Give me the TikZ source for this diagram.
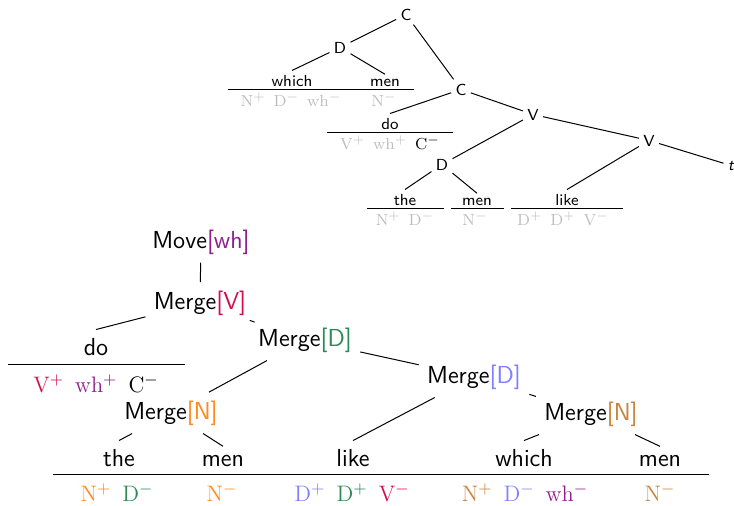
\documentclass[tikz,border=0pt]{standalone}
\usepackage{xcolor}
\usepackage{tikz}
\usetikzlibrary{positioning}
\definecolor{featOrange}{HTML}{FF8A1E}
\definecolor{featPeru}{HTML}{C8843E}
\definecolor{featBlue}{HTML}{8080FF}
\definecolor{featGreen}{HTML}{2E8B57}
\definecolor{featRed}{HTML}{D0104C}
\definecolor{featPurple}{HTML}{8E1E8E}
\definecolor{featGray}{HTML}{BDBDBD}

\begin{document}
\begin{tikzpicture}[
  x=0.5pt,y=-0.5pt,
  op/.style={font=\fontsize{12.3}{14}\selectfont\sffamily,inner sep=4pt,anchor=base},
  feats/.style={font=\fontsize{11.2}{13}\selectfont\rmfamily,inner sep=0pt,anchor=base},
  cat/.style={font=\fontsize{8}{10}\selectfont\sffamily,inner sep=2pt,anchor=base},
  spent/.style={font=\fontsize{8}{10}\selectfont\rmfamily,inner sep=0pt,anchor=base,text=featGray},
  branch/.style={line width=0.5pt},
  bar/.style={line width=0.5pt}
]
\useasboundingbox (0,0) rectangle (734,505);
\node[cat] (cTop) at (406,20) {C};
\node[cat] (dTop) at (340,53) {D};
\node[cat] (whichT) at (292,86) {which};
\node[cat] (menT) at (385,86) {men};
\node[spent] (whichTF) at (291,106) {N$^{+}$\enskip D$^{-}$\enskip wh$^{-}$};
\node[spent] (menTF) at (384,106) {N$^{-}$};
\node[cat] (cMid) at (461,95) {C};
\node[cat] (doT) at (390,129) {do};
\node[spent] (doTF) at (390,149) {V$^{+}$\enskip wh$^{+}$\enskip{\color{black}C$^{-}$}};
\node[cat] (vTop) at (533,120) {V};
\node[cat] (vLow) at (649,146) {V};
\node[cat] (trace) at (731,170) {\itshape t};
\node[cat] (dLow) at (442,170) {D};
\node[cat] (theT) at (405,205) {the};
\node[cat] (menT2) at (477,205) {men};
\node[cat] (likeT) at (567,205) {like};
\node[spent] (theTF) at (405,225) {N$^{+}$\enskip D$^{-}$};
\node[spent] (menT2F) at (475,225) {N$^{-}$};
\node[spent] (likeTF) at (563,225) {D$^{+}$\enskip D$^{+}$\enskip V$^{-}$};
\draw[bar] (228,89) -- (357,89);
\draw[bar] (357,89) -- (414,89);
\draw[bar] (327,132) -- (453,132);
\draw[bar] (367,208) -- (444,208);
\draw[bar] (451,208) -- (504,208);
\draw[bar] (511,208) -- (623,208);
\draw[branch] (cTop) -- (dTop);
\draw[branch] (cTop) -- (cMid);
\draw[branch] (dTop) -- (whichT.north);
\draw[branch] (dTop) -- (menT.north);
\draw[branch] (cMid) -- (doT.north);
\draw[branch] (cMid) -- (vTop);
\draw[branch] (vTop) -- (dLow);
\draw[branch] (vTop) -- (vLow);
\draw[branch] (dLow) -- (theT.north);
\draw[branch] (dLow) -- (menT2.north);
\draw[branch] (vLow) -- (likeT.north);
\draw[branch] (vLow) -- (trace);
\node[op] (move) at (201,248) {Move{\color{featPurple}[wh]}};
\node[op] (mergeV) at (200,309) {Merge{\color{featRed}[V]}};
\node[op] (doL) at (96,355) {do};
\node[feats] (doF) at (96,392) {{\color{featRed}V$^{+}$}\enskip{\color{featPurple}wh$^{+}$}\enskip C$^{-}$};
\node[op] (mergeDa) at (305,346) {Merge{\color{featGreen}[D]}};
\node[op] (mergeDb) at (474,383) {Merge{\color{featBlue}[D]}};
\node[op] (mergeNa) at (171,419) {Merge{\color{featOrange}[N]}};
\node[op] (mergeNb) at (591,420) {Merge{\color{featPeru}[N]}};
\node[op] (theL) at (119,466) {the};
\node[op] (menL) at (223,466) {men};
\node[op] (likeL) at (353,466) {like};
\node[op] (whichL) at (524,466) {which};
\node[op] (menR) at (660,466) {men};
\node[feats] (theF) at (117,501) {{\color{featOrange}N$^{+}$}\enskip{\color{featGreen}D$^{-}$}};
\node[feats] (menF) at (222,501) {{\color{featOrange}N$^{-}$}};
\node[feats] (likeF) at (352,501) {{\color{featBlue}D$^{+}$}\enskip{\color{featGreen}D$^{+}$}\enskip{\color{featRed}V$^{-}$}};
\node[feats] (whichF) at (525,501) {{\color{featPeru}N$^{+}$}\enskip{\color{featBlue}D$^{-}$}\enskip{\color{featPurple}wh$^{-}$}};
\node[feats] (menRF) at (660,501) {{\color{featPeru}N$^{-}$}};
\draw[bar] (8,364) -- (185,364);
\draw[bar] (53,474) -- (175,474);
\draw[bar] (175,474) -- (270,474);
\draw[bar] (270,474) -- (435,474);
\draw[bar] (435,474) -- (612,474);
\draw[bar] (612,474) -- (709,474);
\draw[branch] (move) -- (mergeV);
\draw[branch] (mergeV) -- (doL.north);
\draw[branch] (mergeV) -- (mergeDa);
\draw[branch] (mergeDa) -- (mergeNa);
\draw[branch] (mergeDa) -- (mergeDb);
\draw[branch] (mergeDb) -- (likeL.north);
\draw[branch] (mergeDb) -- (mergeNb);
\draw[branch] (mergeNa) -- (theL.north);
\draw[branch] (mergeNa) -- (menL.north);
\draw[branch] (mergeNb) -- (whichL.north);
\draw[branch] (mergeNb) -- (menR.north);
\end{tikzpicture}
\end{document}
